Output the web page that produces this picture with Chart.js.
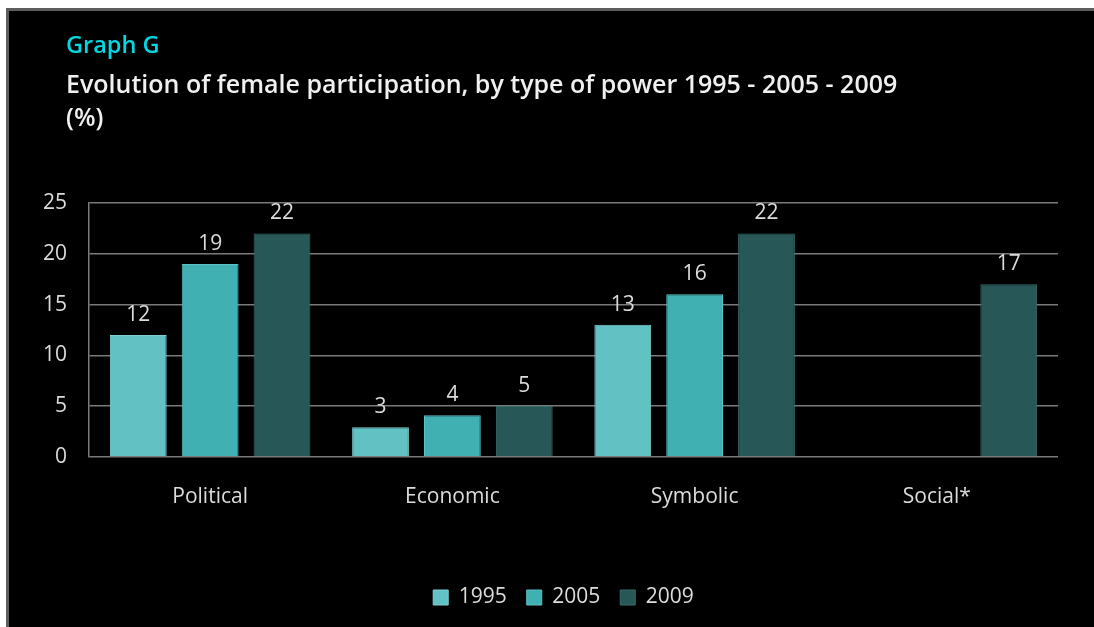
<!DOCTYPE html>
<html>
<head>
<meta charset="utf-8">
<script src="https://cdn.jsdelivr.net/npm/chart.js@4"></script>
<style>
  body { margin: 0; background: #fff; width: 1094px; height: 627px; overflow: hidden; }
  #frame {
    position: absolute; left: 6px; top: 8px; width: 1100px; height: 630px;
    background: #000; border-left: 3px solid #5e5e5e; border-top: 3px solid #5e5e5e;
  }
  .title { position: absolute; left: 57px; font-family: "Open Sans", sans-serif; font-weight: 600; font-size: 25px; color: #f0f0f0; white-space: nowrap; }
  #graphName { top: 17px; color: #00d9e2; font-size: 23.5px; }
  #line1 { top: 55px; }
  #line2 { top: 88px; }
  #chart { position: absolute; left: 0; top: 0; }
</style>
</head>
<body>
<div id="frame">
  <canvas id="chart" width="1085" height="616"></canvas>
  <div class="title" id="graphName">Graph G</div>
  <div class="title" id="line1">Evolution of female participation, by type of power 1995 - 2005 - 2009</div>
  <div class="title" id="line2">(%)</div>
</div>
<script>
// Data
const categories = ["Political", "Economic", "Symbolic", "Social*"];
const seriesNames = ["1995", "2005", "2009"];
const values1995 = [12, 2.9, 13, null];
const values2005 = [19, 4.1, 16, null];
const values2009 = [22, 5, 22, 17];
const yTicks = [0, 5, 10, 15, 20, 25];

// Colors for each year
const barColors = ["#62c1c3", "#41b0b3", "#275757"];
const barBorders = ["#7fd0d2", "#5cc2c4", "#3a6c6c"];

const textColor = "#dcdcdc";
const fontFamily = "'Open Sans', sans-serif";

// Writes the value above each bar
const valueLabels = {
  id: "valueLabels",
  afterDatasetsDraw(chart) {
    const ctx = chart.ctx;
    ctx.save();
    ctx.fillStyle = textColor;
    ctx.font = "21px " + fontFamily;
    ctx.textAlign = "center";
    ctx.textBaseline = "alphabetic";
    chart.data.datasets.forEach((ds, i) => {
      chart.getDatasetMeta(i).data.forEach((bar, j) => {
        if (ds.data[j] == null) return;
        ctx.fillText(Math.round(ds.data[j]), bar.x, bar.y - 14);
      });
    });
    ctx.restore();
  }
};

// Moves the legend lower and a bit right, like in the picture
const moveLegend = {
  id: "moveLegend",
  afterLayout(chart) {
    const lg = chart.legend;
    lg.left += 24; lg.right += 24;
    lg.top += 37; lg.bottom += 37;
  }
};

const allValues = [values1995, values2005, values2009];

new Chart(document.getElementById("chart"), {
  type: "bar",
  data: {
    labels: categories,
    datasets: seriesNames.map((name, i) => ({
      label: name,
      data: allValues[i],
      backgroundColor: barColors[i],
      borderColor: barBorders[i],
      borderWidth: 1,
      categoryPercentage: 0.89,
      barPercentage: 0.79
    }))
  },
  options: {
    responsive: false,
    animation: false,
    layout: { padding: { top: 192, left: 12, right: 36, bottom: 46 } },
    scales: {
      x: {
        grid: { display: false },
        border: { display: false },
        ticks: { color: textColor, font: { family: fontFamily, size: 21 }, padding: 20 }
      },
      y: {
        min: yTicks[0],
        max: yTicks[yTicks.length - 1],
        afterBuildTicks(axis) { axis.ticks = yTicks.map(v => ({ value: v })); },
        grid: { color: "#7a7a7a", lineWidth: 1.5, drawTicks: false },
        border: { color: "#7a7a7a", width: 1.5 },
        ticks: { color: textColor, font: { family: fontFamily, size: 21 }, padding: 22 }
      }
    },
    plugins: {
      tooltip: { enabled: false },
      legend: {
        position: "bottom",
        labels: {
          color: textColor,
          font: { family: fontFamily, size: 21 },
          boxWidth: 15,
          boxHeight: 15,
          padding: 20,
          useBorderRadius: false
        }
      }
    }
  },
  plugins: [valueLabels, moveLegend]
});
</script>
</body>
</html>
